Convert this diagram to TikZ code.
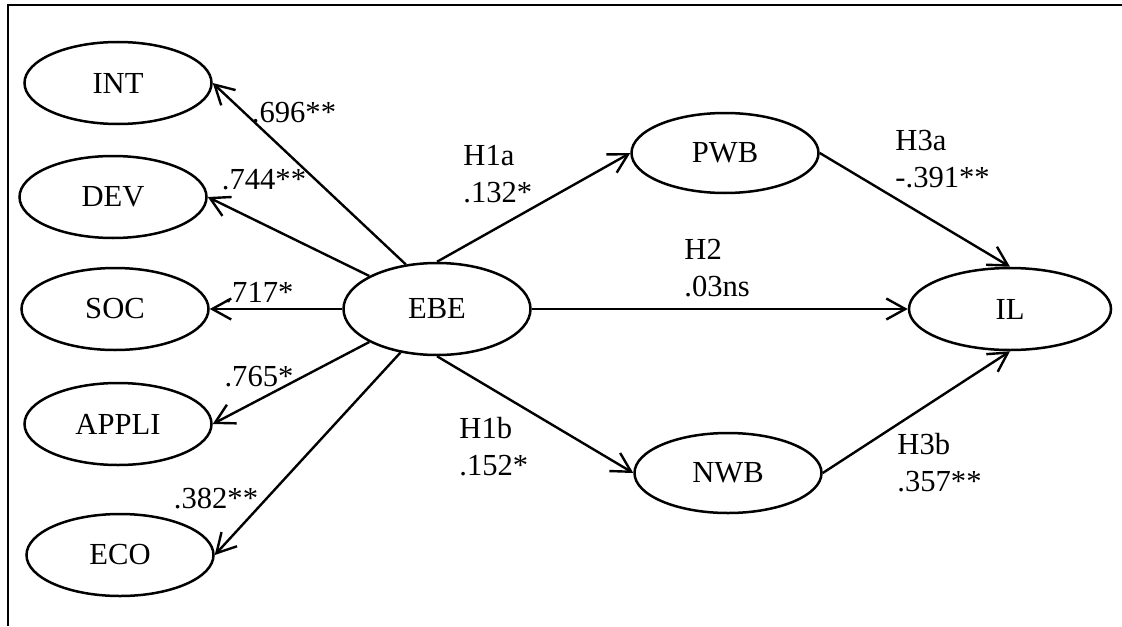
\documentclass[tikz,border=0pt]{standalone}
\usepackage{fontspec}
\setmainfont{Liberation Serif}
\usetikzlibrary{arrows.meta,shapes.geometric}
\begin{document}
\begin{tikzpicture}[x=0.5pt,y=-0.5pt,
  lv/.style={ellipse,draw,line width=1.25pt,inner sep=0pt,minimum width=93.5pt,minimum height=41pt,font=\fontsize{15.3}{18.5}\selectfont},
  arr/.style={line width=1.2pt,-{Straight Barb[length=9.5pt,width=10.5pt]}},
  lbl/.style={inner sep=0pt,font=\fontsize{15.3}{18.5}\selectfont},
  hyp/.style={lbl,anchor=north west,align=left},
  frame/.style={line width=1.2pt}]
\useasboundingbox (0,0) rectangle (1122,626);
\coordinate (fb) at (8,626);
\coordinate (fc) at (8,5);
\coordinate (fr) at (1122,5);
\draw[frame] (fb) -- (fc) -- (fr);
\node[lv] (INT) at (118,83) {INT};
\node[lv] (DEV) at (113,197) {DEV};
\node[lv] (SOC) at (115,309) {SOC};
\node[lv] (APPLI) at (118,424) {APPLI};
\node[lv] (ECO) at (120,555) {ECO};
\node[lv,minimum height=46pt] (EBE) at (437,309) {EBE};
\node[lv,minimum height=40pt] (PWB) at (725,153) {PWB};
\node[lv,minimum width=101pt] (IL) at (1010,309) {IL};
\node[lv,minimum height=40pt] (NWB) at (728,473) {NWB};
\draw[arr] (EBE.125) -- (INT.east);
\draw[arr] (EBE.154) -- (DEV.east);
\draw[arr] (EBE.west) -- (SOC.east);
\draw[arr] (EBE.206) -- (APPLI.east);
\draw[arr] (EBE.230) -- (ECO.east);
\draw[arr] (EBE.north) -- (PWB.west);
\draw[arr] (EBE.east) -- (IL.west);
\draw[arr] (EBE.south) -- (NWB.west);
\draw[arr] (PWB.east) -- (IL.north);
\draw[arr] (NWB.east) -- (IL.south);
\node[lbl] (l1) at (294,113) {.696**};
\node[lbl] (l2) at (264,180) {.744**};
\node[lbl] (l3) at (259,293) {.717*};
\node[lbl] (l4) at (259,377) {.765*};
\node[lbl] (l5) at (216,499) {.382**};
\node[hyp] (h1a) at (463,145) {H1a\\.132*};
\node[hyp] (h2) at (684,239) {H2\\.03ns};
\node[hyp] (h1b) at (459,417) {H1b\\.152*};
\node[hyp] (h3a) at (895,130) {H3a\\-.391**};
\node[hyp] (h3b) at (897,433) {H3b\\.357**};
\end{tikzpicture}
\end{document}
